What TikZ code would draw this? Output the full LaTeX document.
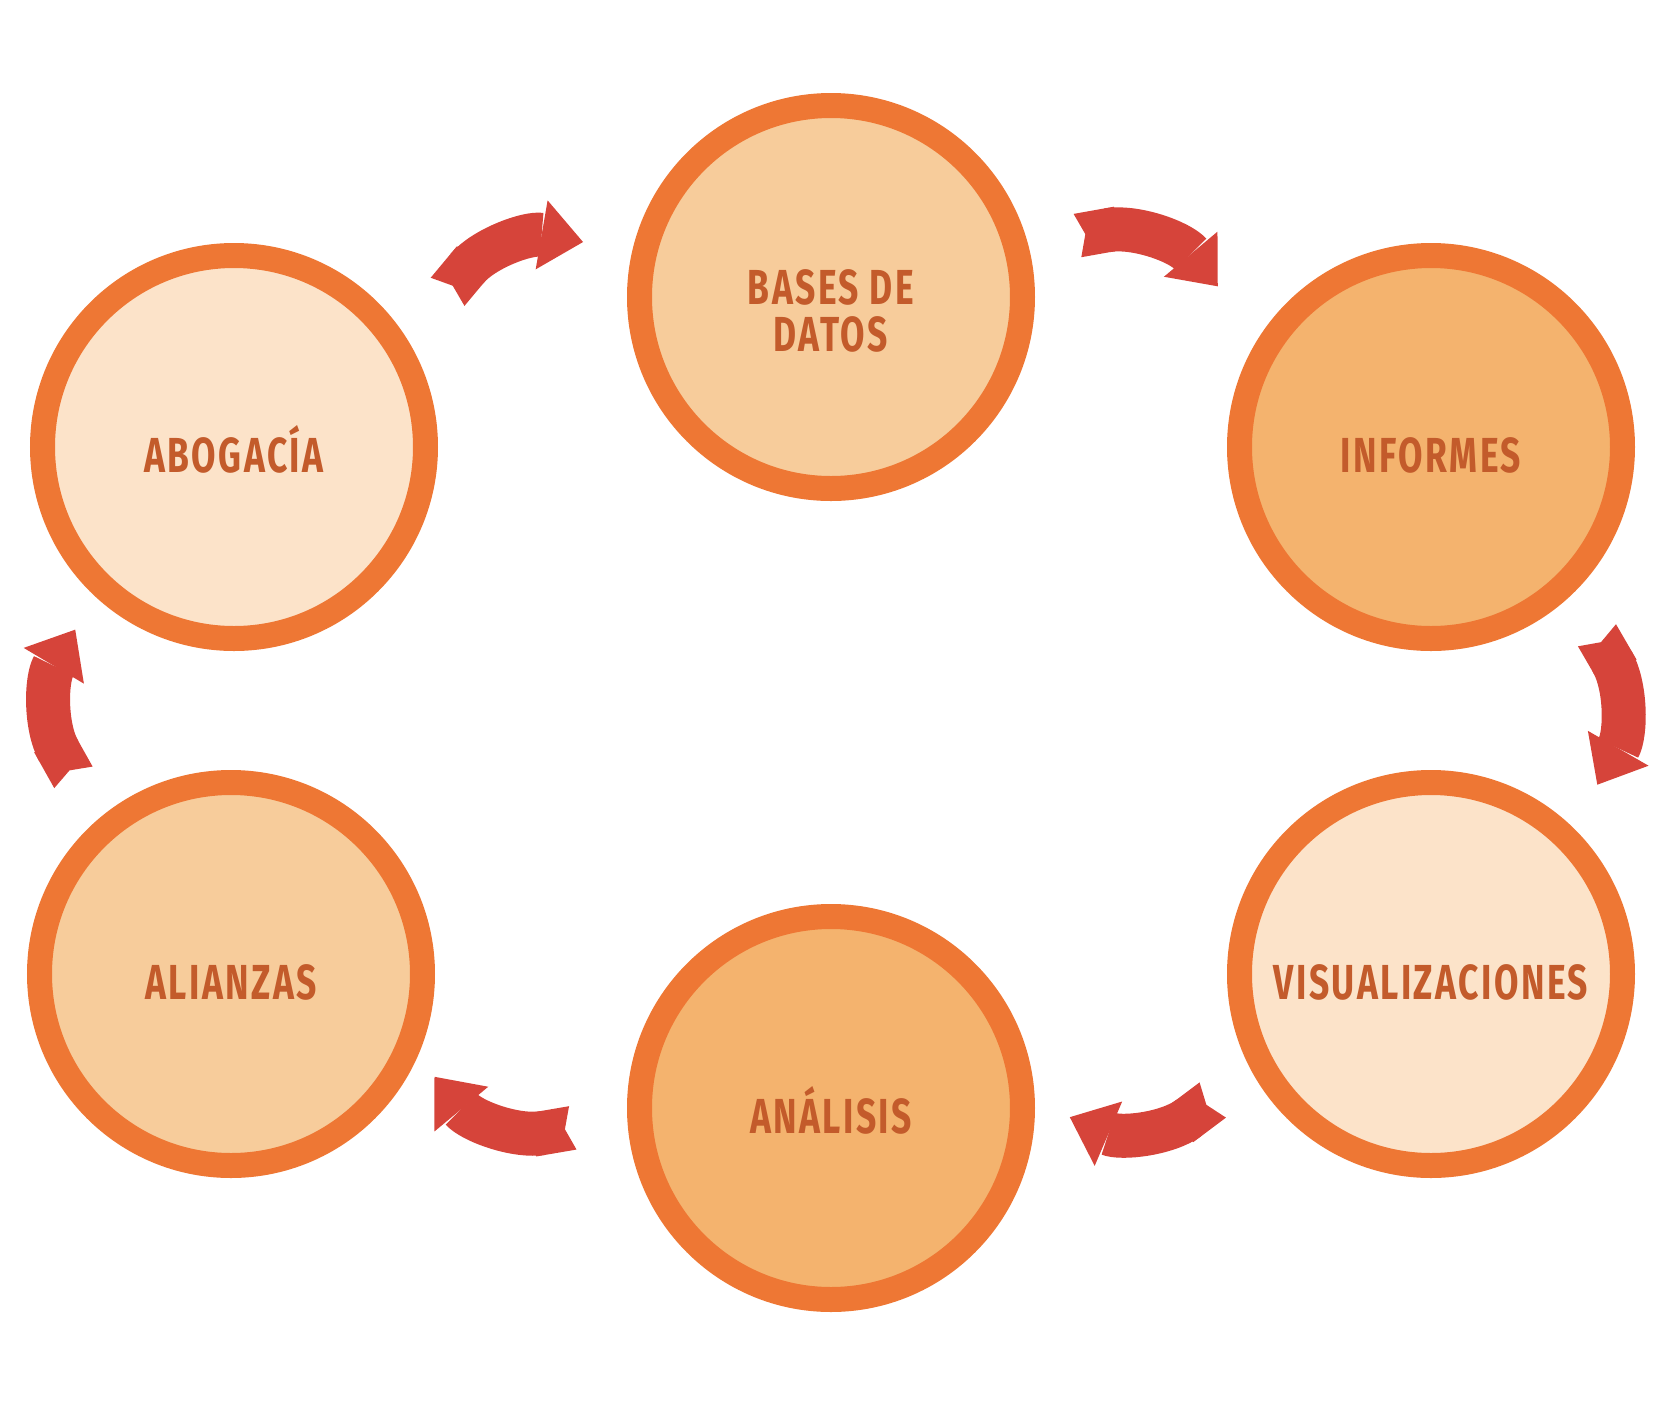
\documentclass[tikz,border=0pt]{standalone}
\usepackage{fontspec}
\newfontfamily\stagefont{Fira Sans}[FakeStretch=0.72,LetterSpace=5]
\usetikzlibrary{arrows.meta,calc}

\definecolor{ringorange}{HTML}{EE7734}
\definecolor{filllight}{HTML}{FCE3C9}
\definecolor{fillmid}{HTML}{F7CC9B}
\definecolor{filldark}{HTML}{F4B36E}
\definecolor{labelbrown}{HTML}{C35B2B}
\definecolor{arrowred}{HTML}{D6443A}

\tikzset{
  stage/.style={circle, draw=ringorange, line width=0.25cm, minimum size=3.83cm,
    inner sep=0pt, align=center, text=labelbrown, text height=0.50cm, text depth=0pt,
    font=\stagefont\bfseries\fontsize{14}{13.4}\selectfont},
  cycle arrow/.style={draw=arrowred, line width=0.44cm,
    {Triangle Cap[reversed,length=0.08cm]}-{Triangle[width=0.70cm,length=0.42cm,line width=0pt]},
    bend left=30}
}

\begin{document}
\begin{tikzpicture}
\useasboundingbox (0,0) rectangle (16.7,-14.08);

\node[stage, fill=fillmid, text height=1.09cm] (bases) at (8.31,-2.97) {BASES DE\\DATOS};
\node[stage, fill=filldark] (informes) at (14.31,-4.47) {INFORMES};
\node[stage, fill=filllight] (visual) at (14.31,-9.74) {VISUALIZACIONES};
\node[stage, fill=filldark] (analisis) at (8.31,-11.08) {ANÁLISIS};
\node[stage, fill=fillmid] (alianzas) at (2.31,-9.74) {ALIANZAS};
\node[stage, fill=filllight] (abogacia) at (2.34,-4.47) {ABOGACÍA};

\draw[cycle arrow] ($(abogacia)+(36:2.64)$) to ($(bases)+(167.5:2.54)$);
\draw[cycle arrow] ($(bases)+(14:2.54)$) to ($(informes)+(143:2.67)$);
\draw[cycle arrow] ($(informes)+(-48.6:2.51)$) to ($(visual)+(48.7:2.52)$);
\draw[cycle arrow] ($(visual)+(210:2.52)$) to ($(analisis)+(-2.2:2.39)$);
\draw[cycle arrow] ($(analisis)+(184.4:2.59)$) to ($(alianzas)+(-26.8:2.28)$);
\draw[cycle arrow] ($(alianzas)+(128.7:2.52)$) to ($(abogacia)+(229:2.42)$);
\end{tikzpicture}
\end{document}
